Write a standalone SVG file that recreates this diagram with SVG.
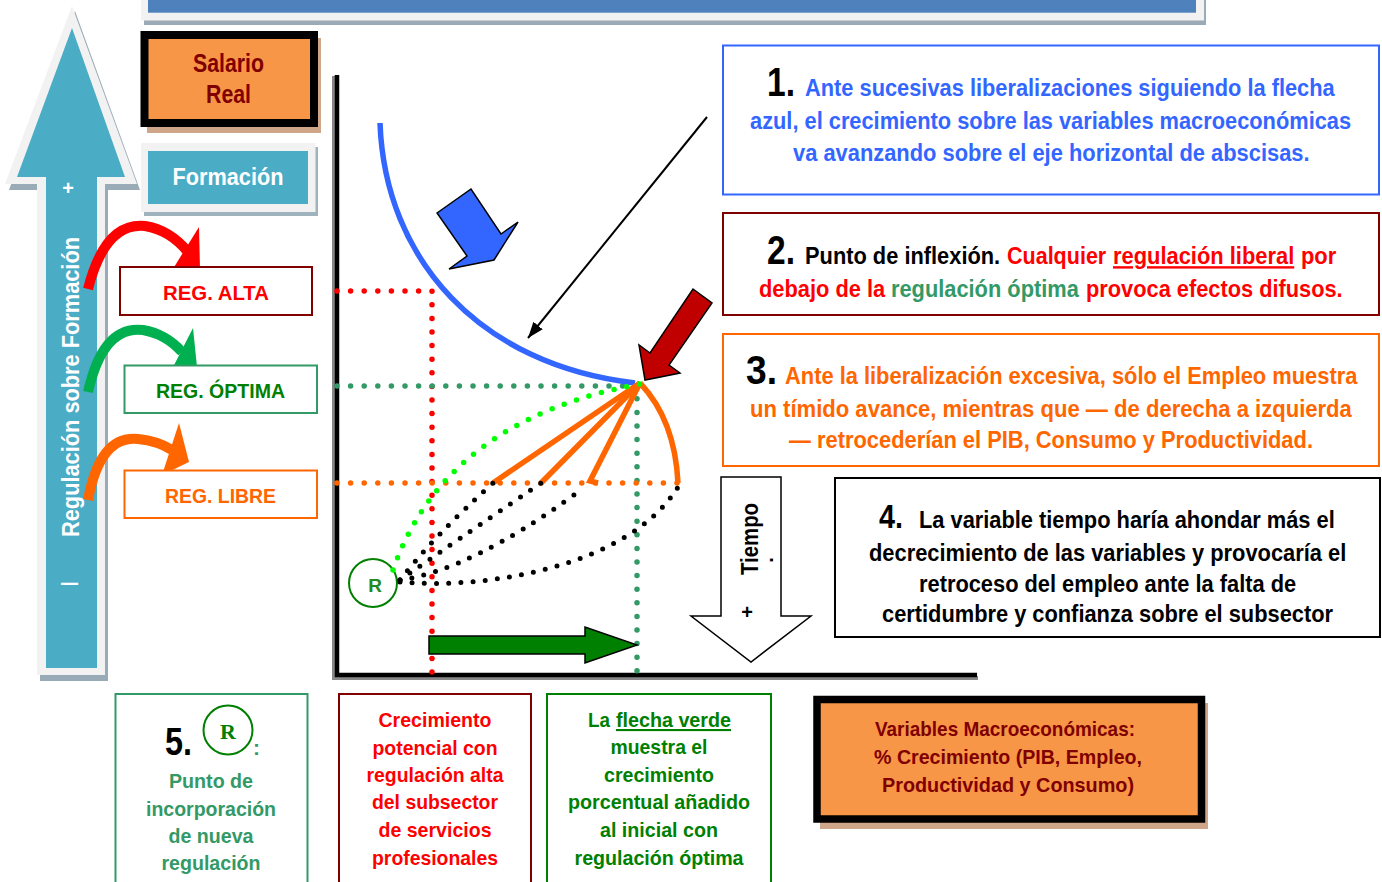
<svg xmlns="http://www.w3.org/2000/svg" width="1382" height="882" viewBox="0 0 1382 882">
<defs>
<style>
text{font-family:'Liberation Sans Narrow','Arial Narrow','Liberation Sans',Arial,sans-serif;font-weight:bold}
.c{text-anchor:middle}
.dot{fill:none;stroke-linecap:round;stroke-dasharray:0 13.6;stroke-width:5.5}
.bdot{fill:none;stroke:#000;stroke-linecap:round;stroke-dasharray:0 12.2;stroke-width:5}
.orl{fill:none;stroke:#ff6600;stroke-width:5.5}
.arc{fill:none;stroke-width:10}
.blk{stroke:#000;stroke-width:1.5;stroke-linejoin:miter}
</style>
<marker id="ah" viewBox="0 0 16 12" refX="16" refY="6" markerWidth="16" markerHeight="12" markerUnits="userSpaceOnUse" orient="auto">
<path d="M0,0 L16,6 L0,12 z" fill="#000"/>
</marker>
</defs>
<rect width="1382" height="882" fill="#fff"/>

<g id="top-bar">
<rect x="144" y="-5" width="1062" height="30" fill="#9aaab6"/>
<rect x="141" y="-5" width="1063" height="25.5" fill="#f2f2f2"/>
<rect x="148" y="-5" width="1048" height="17.7" fill="#4f81bd"/>
</g>

<g id="up-arrow">
<polygon points="75,11 140,190 108,190 108,681 40,681 40,190 9,190" fill="#98abb6"/>
<polygon points="72,6 137,184 105,184 105,675 37,675 37,184 5,184" fill="#f2f2f2"/>
<polygon points="72,28 125,177 97,177 97,668 46,668 46,177 17,177" fill="#4bacc6"/>
<text x="68" y="195" class="c" font-size="20" fill="#fff">+</text>
<text transform="translate(79,387) rotate(-90)" class="c" font-size="24" fill="#fff" style="font-family:'Liberation Sans',Arial,sans-serif" textLength="300" lengthAdjust="spacingAndGlyphs">Regulación sobre Formación</text>
<text transform="translate(78,584) rotate(-90)" class="c" font-size="24" fill="#fff" style="font-family:'Liberation Sans',Arial,sans-serif;font-weight:normal">I</text>
</g>

<g id="salario-real">
<rect x="147" y="38" width="174" height="95" fill="#cfa68a"/>
<rect x="144.5" y="35" width="169.5" height="88" fill="#f79646" stroke="#000" stroke-width="8"/>
<text x="228.5" y="72" class="c" font-size="25" fill="#800000" textLength="71" lengthAdjust="spacingAndGlyphs">Salario</text>
<text x="228.5" y="103" class="c" font-size="25" fill="#800000" textLength="45" lengthAdjust="spacingAndGlyphs">Real</text>
</g>

<g id="formacion">
<rect x="144" y="147" width="174" height="69" fill="#9fb3bf"/>
<rect x="141" y="143" width="174.5" height="69" fill="#f2f2f2"/>
<rect x="148" y="151" width="160" height="53" fill="#4bacc6"/>
<text x="228" y="185" class="c" font-size="24" fill="#fff" textLength="111" lengthAdjust="spacingAndGlyphs">Formación</text>
</g>

<g id="reg-alta">
<path d="M88,289 Q105,222 145,226 Q170,230 188,252" class="arc" stroke="#ff0000"/>
<polygon points="199,227 200,269 171,272" fill="#ff0000"/>
<rect x="120" y="267" width="192" height="48" fill="#fff" stroke="#800000" stroke-width="2"/>
<text x="216" y="300" class="c" font-size="21" fill="#ff0000" textLength="106" lengthAdjust="spacingAndGlyphs">REG. ALTA</text>
</g>

<g id="reg-optima">
<path d="M88,392 Q103,325 143,330 Q166,334 182,352" class="arc" stroke="#00b050"/>
<polygon points="193,328 197,367 169,375" fill="#00b050"/>
<rect x="124.5" y="365.5" width="192.5" height="47.5" fill="#fff" stroke="#339966" stroke-width="2"/>
<text x="220.5" y="398" class="c" font-size="21" fill="#008000" textLength="129" lengthAdjust="spacingAndGlyphs">REG. ÓPTIMA</text>
</g>

<g id="reg-libre">
<path d="M88,500 Q100,435 138,439 Q158,441 172,450" class="arc" stroke="#ff6600"/>
<polygon points="179,423 189,462 162,475" fill="#ff6600"/>
<rect x="124.5" y="470.5" width="192.5" height="47.5" fill="#fff" stroke="#ff6600" stroke-width="2"/>
<text x="220.5" y="503" class="c" font-size="21" fill="#ff6600" textLength="111" lengthAdjust="spacingAndGlyphs">REG. LIBRE</text>
</g>

<g id="chart">
<path d="M334,76 V678 H978" fill="none" stroke="#888" stroke-width="4"/>
<path d="M337,75 V675 H977" fill="none" stroke="#000" stroke-width="4.5"/>
<path d="M337,291 H432 V673" class="dot" stroke="#ff0000"/>
<path d="M337,386 H637 V672" class="dot" stroke="#339966"/>
<path d="M337,483 H680" class="dot" stroke="#ff6600"/>
<path d="M380,123 C385,260 480,365 635,383" fill="none" stroke="#3366ff" stroke-width="5.5"/>
<path d="M640,383 L493,483" class="orl"/>
<path d="M640,383 L541,483" class="orl"/>
<path d="M640,383 L590,481 L598,483" class="orl"/>
<path d="M640,383 Q675,420 678,483" class="orl"/>
<circle cx="373" cy="583" r="24" fill="#fff" stroke="#008000" stroke-width="2"/>
<text x="375" y="592" class="c" font-size="19" fill="#228b22">R</text>
<path d="M393,570 Q445,420 640,384" class="dot" stroke="#00ff00" style="stroke-dasharray:0 13"/>
<path d="M400,580 Q435,535 493,483" class="bdot"/>
<path d="M400,580 Q450,545 541,483" class="bdot"/>
<path d="M400,580 Q470,570 574,495" class="bdot"/>
<path d="M400,582 C490,590 630,565 678,487" class="bdot"/>
</g>

<g id="arrows">
<polygon points="437,213 471,189 501,234 518,222 494,260 449,269 467,256" fill="#3366ff" class="blk"/>
<polygon points="693,289 712,303 669,365 680,373 645,380 639,345 650,353" fill="#c00000" class="blk"/>
<line x1="707" y1="117" x2="528" y2="338" stroke="#000" stroke-width="2" marker-end="url(#ah)"/>
<polygon points="429,636 585,636 585,627 637,645 585,663 585,654 429,654" fill="#008000" class="blk"/>
</g>

<g id="tiempo">
<polygon points="721,477 781,477 781,616 811,616 751,662 691,616 721,616" fill="#fff" stroke="#000" stroke-width="1.5"/>
<text transform="translate(758,539) rotate(-90)" class="c" font-size="23" fill="#000" textLength="72" lengthAdjust="spacingAndGlyphs">Tiempo</text>
<text transform="translate(773,560) rotate(-90)" class="c" font-size="20" fill="#000">.</text>
<text x="747" y="619" class="c" font-size="20" fill="#000">+</text>
</g>

<g id="box1">
<rect x="723" y="45.5" width="656" height="149" fill="#fff" stroke="#3366ff" stroke-width="2"/>
<text x="767" y="96" font-size="40" fill="#000" textLength="28" lengthAdjust="spacingAndGlyphs">1.</text>
<text transform="translate(805,96) scale(0.82,1)" font-size="24" fill="#3366ff" textLength="646" lengthAdjust="spacingAndGlyphs">Ante sucesivas liberalizaciones siguiendo la flecha</text>
<text transform="translate(750,129) scale(0.82,1)" font-size="24" fill="#3366ff" textLength="733" lengthAdjust="spacingAndGlyphs">azul, el crecimiento sobre las variables macroeconómicas</text>
<text transform="translate(793,161) scale(0.82,1)" font-size="24" fill="#3366ff" textLength="630" lengthAdjust="spacingAndGlyphs">va avanzando sobre el eje horizontal de abscisas.</text>
</g>

<g id="box2">
<rect x="723" y="213" width="656" height="102" fill="#fff" stroke="#800000" stroke-width="2"/>
<text x="767" y="264" font-size="40" fill="#000" textLength="28" lengthAdjust="spacingAndGlyphs">2.</text>
<text transform="translate(805,264) scale(0.82,1)" font-size="24" fill="#000" textLength="238" lengthAdjust="spacingAndGlyphs">Punto de inflexión.</text>
<text transform="translate(1007,264) scale(0.82,1)" font-size="24" fill="#ff0000" textLength="121" lengthAdjust="spacingAndGlyphs">Cualquier</text>
<text transform="translate(1113,264) scale(0.82,1)" font-size="24" fill="#ff0000" text-decoration="underline" textLength="221" lengthAdjust="spacingAndGlyphs">regulación liberal</text>
<text transform="translate(1301,264) scale(0.82,1)" font-size="24" fill="#ff0000" textLength="43" lengthAdjust="spacingAndGlyphs">por</text>
<text transform="translate(759,297) scale(0.82,1)" font-size="24" fill="#ff0000" textLength="154" lengthAdjust="spacingAndGlyphs">debajo de la</text>
<text transform="translate(891,297) scale(0.82,1)" font-size="24" fill="#339966" textLength="229" lengthAdjust="spacingAndGlyphs">regulación óptima</text>
<text transform="translate(1086,297) scale(0.82,1)" font-size="24" fill="#ff0000" textLength="313" lengthAdjust="spacingAndGlyphs">provoca efectos difusos.</text>
</g>

<g id="box3">
<rect x="723" y="334" width="656" height="132" fill="#fff" stroke="#ff6600" stroke-width="2"/>
<text x="746" y="384" font-size="40" fill="#000" textLength="31" lengthAdjust="spacingAndGlyphs">3.</text>
<text transform="translate(785,384) scale(0.82,1)" font-size="24" fill="#ff6600" textLength="698" lengthAdjust="spacingAndGlyphs">Ante la liberalización excesiva, sólo el Empleo muestra</text>
<text transform="translate(750,417) scale(0.82,1)" font-size="24" fill="#ff6600" textLength="734" lengthAdjust="spacingAndGlyphs">un tímido avance, mientras que  — de derecha a izquierda</text>
<text transform="translate(789,448) scale(0.82,1)" font-size="24" fill="#ff6600" textLength="639" lengthAdjust="spacingAndGlyphs">— retrocederían el PIB, Consumo y Productividad.</text>
</g>

<g id="box4">
<rect x="835" y="478" width="545" height="159" fill="#fff" stroke="#000" stroke-width="2"/>
<text x="879" y="528" font-size="34" fill="#000" textLength="24" lengthAdjust="spacingAndGlyphs">4.</text>
<text transform="translate(919,528) scale(0.82,1)" font-size="23" fill="#000" textLength="507" lengthAdjust="spacingAndGlyphs">La variable tiempo haría ahondar más el</text>
<text transform="translate(869,561) scale(0.82,1)" font-size="23" fill="#000" textLength="582" lengthAdjust="spacingAndGlyphs">decrecimiento de las variables y provocaría el</text>
<text transform="translate(919,592) scale(0.82,1)" font-size="23" fill="#000" textLength="460" lengthAdjust="spacingAndGlyphs">retroceso del empleo ante la falta de</text>
<text transform="translate(882,622) scale(0.82,1)" font-size="23" fill="#000" textLength="550" lengthAdjust="spacingAndGlyphs">certidumbre y confianza sobre el subsector</text>
</g>

<g id="box5">
<rect x="115.5" y="694" width="192" height="200" fill="#fff" stroke="#339966" stroke-width="2"/>
<text x="165" y="755" font-size="38" fill="#000" textLength="27" lengthAdjust="spacingAndGlyphs">5.</text>
<circle cx="228" cy="730" r="24.5" fill="none" stroke="#008000" stroke-width="2"/>
<text x="228" y="739" class="c" font-size="22" fill="#008000" style="font-family:'Liberation Serif','Times New Roman',serif">R</text>
<text x="253" y="755" font-size="21" fill="#339966">:</text>
<text x="211" y="788" class="c" font-size="21" fill="#339966" textLength="84" lengthAdjust="spacingAndGlyphs">Punto de</text>
<text x="211" y="816" class="c" font-size="21" fill="#339966" textLength="130" lengthAdjust="spacingAndGlyphs">incorporación</text>
<text x="211" y="843" class="c" font-size="21" fill="#339966" textLength="85" lengthAdjust="spacingAndGlyphs">de nueva</text>
<text x="211" y="870" class="c" font-size="21" fill="#339966" textLength="99" lengthAdjust="spacingAndGlyphs">regulación</text>
</g>

<g id="box-crecimiento">
<rect x="339" y="694" width="192" height="200" fill="#fff" stroke="#800000" stroke-width="2"/>
<text x="435" y="727" class="c" font-size="21" fill="#ff0000" textLength="113" lengthAdjust="spacingAndGlyphs">Crecimiento</text>
<text x="435" y="755" class="c" font-size="21" fill="#ff0000" textLength="125" lengthAdjust="spacingAndGlyphs">potencial con</text>
<text x="435" y="782" class="c" font-size="21" fill="#ff0000" textLength="137" lengthAdjust="spacingAndGlyphs">regulación alta</text>
<text x="435" y="809" class="c" font-size="21" fill="#ff0000" textLength="126" lengthAdjust="spacingAndGlyphs">del subsector</text>
<text x="435" y="837" class="c" font-size="21" fill="#ff0000" textLength="113" lengthAdjust="spacingAndGlyphs">de servicios</text>
<text x="435" y="865" class="c" font-size="21" fill="#ff0000" textLength="126" lengthAdjust="spacingAndGlyphs">profesionales</text>
</g>

<g id="box-flecha-verde">
<rect x="547" y="694" width="224" height="200" fill="#fff" stroke="#008000" stroke-width="2"/>
<text x="588" y="727" font-size="21" fill="#008000" textLength="22" lengthAdjust="spacingAndGlyphs">La</text>
<text x="616" y="727" font-size="21" fill="#008000" text-decoration="underline" textLength="115" lengthAdjust="spacingAndGlyphs">flecha verde</text>
<text x="659" y="754" class="c" font-size="21" fill="#008000" textLength="97" lengthAdjust="spacingAndGlyphs">muestra el</text>
<text x="659" y="782" class="c" font-size="21" fill="#008000" textLength="110" lengthAdjust="spacingAndGlyphs">crecimiento</text>
<text x="659" y="809" class="c" font-size="21" fill="#008000" textLength="182" lengthAdjust="spacingAndGlyphs">porcentual añadido</text>
<text x="659" y="837" class="c" font-size="21" fill="#008000" textLength="118" lengthAdjust="spacingAndGlyphs">al inicial con</text>
<text x="659" y="865" class="c" font-size="21" fill="#008000" textLength="169" lengthAdjust="spacingAndGlyphs">regulación óptima</text>
</g>

<g id="variables">
<rect x="820" y="703" width="388" height="126" fill="#cfa68a"/>
<rect x="817" y="699.5" width="384.5" height="119.5" fill="#f79646" stroke="#000" stroke-width="7.5"/>
<text x="1005" y="736" class="c" font-size="21" fill="#800000" textLength="260" lengthAdjust="spacingAndGlyphs">Variables Macroeconómicas:</text>
<text x="1008" y="764" class="c" font-size="21" fill="#800000" textLength="268" lengthAdjust="spacingAndGlyphs">% Crecimiento (PIB, Empleo,</text>
<text x="1008" y="792" class="c" font-size="21" fill="#800000" textLength="252" lengthAdjust="spacingAndGlyphs">Productividad y Consumo)</text>
</g>
</svg>
